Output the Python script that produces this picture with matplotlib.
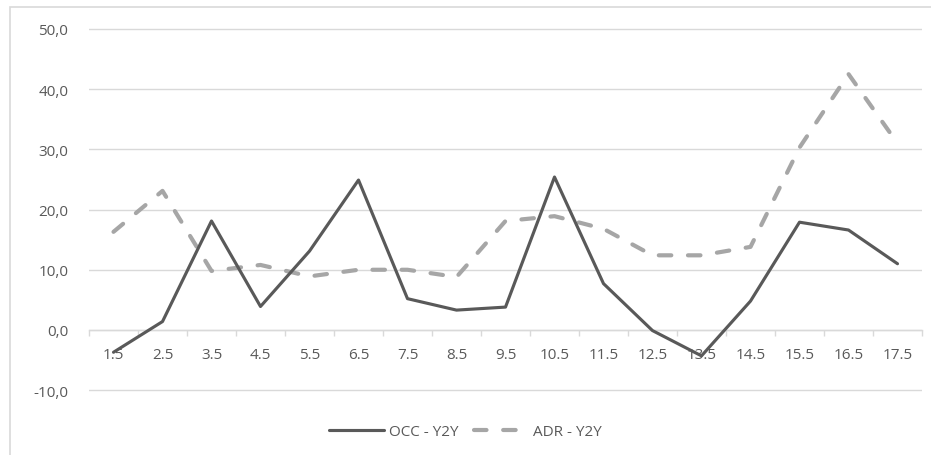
import matplotlib
matplotlib.use("Agg")
import matplotlib.pyplot as plt
from matplotlib.patches import Rectangle
from matplotlib.ticker import FuncFormatter, FixedLocator

categories = ["1.5", "2.5", "3.5", "4.5", "5.5", "6.5", "7.5", "8.5", "9.5",
              "10.5", "11.5", "12.5", "13.5", "14.5", "15.5", "16.5", "17.5"]
occ = [-3.7, 1.4, 18.1, 3.9, 13.1, 24.9, 5.2, 3.3, 3.8,
       25.4, 7.7, -0.1, -4.3, 4.8, 17.9, 16.6, 11.0]
adr = [16.3, 23.1, 9.8, 10.8, 8.9, 10.0, 10.0, 8.8, 18.1,
       18.9, 16.8, 12.4, 12.4, 13.8, 30.3, 42.5, 31.0]
series_names = ["OCC - Y2Y", "ADR - Y2Y"]
yticks = [-10, 0, 10, 20, 30, 40, 50]

plt.rcParams['font.family'] = ['Open Sans', 'DejaVu Sans']

fig = plt.figure(figsize=(9.31, 4.56), dpi=100)
fig.patches.append(Rectangle((10/931, -0.1), 1.2, 1 - 8/456 + 0.1,
                             transform=fig.transFigure, fill=False,
                             edgecolor="#D9D9D9", linewidth=1.2, zorder=0))

ax = fig.add_axes([89/931, 1 - 393/456, (922 - 89)/931, (393 - 29)/456])
x = list(range(len(categories)))

l1, = ax.plot(x, occ, color="#595959", linewidth=2.25, solid_capstyle="round",
              solid_joinstyle="round", label=series_names[0], zorder=3)
l2, = ax.plot(x, adr, color="#A6A6A6", linewidth=3.0, dashes=(3, 4),
              dash_capstyle="round", dash_joinstyle="round",
              label=series_names[1], zorder=2)

ax.set_xlim(-0.5, len(categories) - 0.5)
ax.set_ylim(-10.3, 50.15)
ax.set_yticks(yticks)
ax.yaxis.set_major_formatter(FuncFormatter(lambda v, p: f"{v:.1f}".replace(".", ",")))
ax.grid(axis="y", color="#D9D9D9", linewidth=1.0, zorder=0)
ax.set_axisbelow(True)

for s in ["top", "right", "left"]:
    ax.spines[s].set_visible(False)
ax.spines["bottom"].set_position(("data", 0))
ax.spines["bottom"].set_color("#D9D9D9")
ax.spines["bottom"].set_linewidth(1.0)

ax.set_xticks(x)
ax.set_xticklabels(categories)
ax.xaxis.set_minor_locator(FixedLocator([i - 0.5 for i in range(len(categories) + 1)]))
ax.tick_params(axis="x", which="major", length=0, pad=12, labelsize=11, labelcolor="#595959")
ax.tick_params(axis="x", which="minor", length=4, width=1.0, color="#D9D9D9")
ax.tick_params(axis="y", length=0, pad=15, labelsize=11, labelcolor="#595959")

leg = fig.legend(handles=[l1, l2], loc="center", bbox_to_anchor=(0.5, 1 - 433/456),
                 ncol=2, frameon=False, fontsize=11, handlelength=3.6,
                 columnspacing=1.0, handletextpad=0.3)
for t in leg.get_texts():
    t.set_color("#595959")

fig.savefig("out.png", dpi=100)
